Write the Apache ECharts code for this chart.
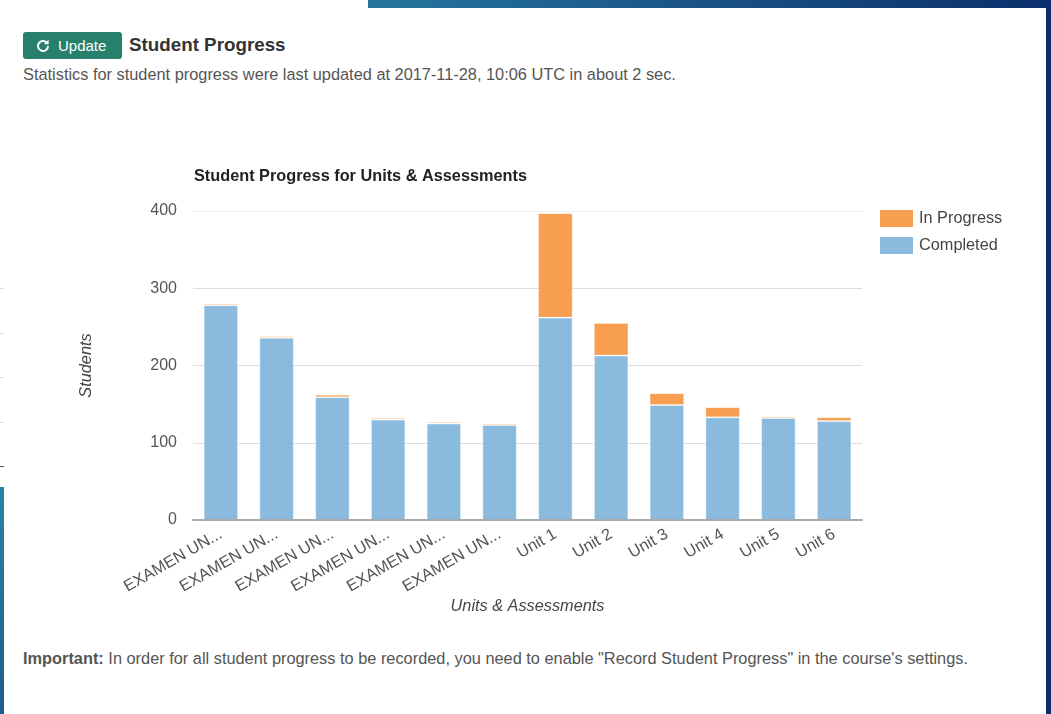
<!DOCTYPE html>
<html>
<head>
<meta charset="utf-8">
<title>Student Progress</title>
<script src="https://cdn.jsdelivr.net/npm/echarts@6/dist/echarts.min.js"></script>
<style>
  html, body { margin: 0; padding: 0; background: #fff; }
  body { width: 1051px; height: 714px; position: relative; overflow: hidden; font-family: "Liberation Sans", Arial, sans-serif; }
  #chart { position: absolute; left: 0; top: 0; width: 1051px; height: 714px; }
  .abs { position: absolute; white-space: nowrap; }
  /* page behind the white card */
  #stripTop { left: 368px; top: 0; width: 683px; height: 8px; background: linear-gradient(90deg, #25769d, #1a5286 50%, #0b2f6c); }
  #stripRight { left: 1046px; top: 0; width: 5px; height: 714px; background: #0b2f6c; }
  #stripLeft { left: 0; top: 487px; width: 4px; height: 227px; background: linear-gradient(180deg, #2a83a4, #1f5c8e); }
  .tick { left: 0; width: 4px; height: 1px; background: #ddd; }
  #btn { left: 23px; top: 32px; width: 99px; height: 27px; background: #26806c; border-radius: 3px; color: #fff; font-size: 15px; line-height: 28px; }
  #btn svg { position: absolute; left: 12px; top: 6px; }
  #btn span { position: absolute; left: 35px; }
  #head { left: 129px; top: 34px; font-size: 18.8px; font-weight: bold; color: #333; line-height: 22px; }
  #stats { left: 23px; top: 65px; font-size: 16.35px; color: #555; line-height: 18px; }
  #note { left: 23px; top: 649px; font-size: 16.35px; color: #555; line-height: 18px; }
</style>
</head>
<body>
<div class="abs" id="stripTop"></div>
<div class="abs" id="stripRight"></div>
<div class="abs" id="stripLeft"></div>
<div class="abs tick" style="top:288px"></div>
<div class="abs tick" style="top:333px"></div>
<div class="abs tick" style="top:377px"></div>
<div class="abs tick" style="top:422px"></div>
<div class="abs tick" style="top:466px;background:#555"></div>
<div class="abs" id="btn">
  <svg width="16" height="16" viewBox="0 0 16 16"><path d="M13 8a5 5 0 1 1-1.5-3.6" fill="none" stroke="#fff" stroke-width="2"/><path d="M13.6 1.6v4.6H9z" fill="#fff"/></svg>
  <span>Update</span>
</div>
<div class="abs" id="head">Student Progress</div>
<div class="abs" id="stats">Statistics for student progress were last updated at 2017-11-28, 10:06 UTC in about 2 sec.</div>
<div class="abs" id="note"><b>Important:</b> In order for all student progress to be recorded, you need to enable "Record Student Progress" in the course's settings.</div>
<div id="chart"></div>
<script>
const categories = ['EXAMEN UN...', 'EXAMEN UN...', 'EXAMEN UN...', 'EXAMEN UN...', 'EXAMEN UN...', 'EXAMEN UN...', 'Unit 1', 'Unit 2', 'Unit 3', 'Unit 4', 'Unit 5', 'Unit 6'];
const completed = [278, 236, 159, 130, 125, 123, 262, 213, 149, 133, 132, 128];
const inProgress = [2, 2, 3, 2, 2, 2, 135, 42, 15, 13, 2, 5];
const yTicks = [0, 100, 200, 300, 400];

const fontFamily = '"Liberation Sans", Arial, sans-serif';
const myChart = echarts.init(document.getElementById('chart'), null, { renderer: 'canvas' });

const option = {
  backgroundColor: 'transparent',
  animation: false,
  textStyle: { fontFamily: fontFamily },
  title: {
    text: 'Student Progress for Units & Assessments',
    left: 189,
    top: 164,
    textStyle: { fontSize: 16.3, fontWeight: 'bold', color: '#222', fontFamily: fontFamily }
  },
  legend: {
    orient: 'vertical',
    left: 875,
    top: 205,
    itemWidth: 33,
    itemHeight: 17,
    itemGap: 10,
    icon: 'rect',
    itemStyle: { borderWidth: 0 },
    textStyle: { fontSize: 16.3, color: '#444', padding: [0, 0, 0, 1], fontFamily: fontFamily },
    data: ['In Progress', 'Completed']
  },
  grid: { left: 193, right: 189, top: 211, bottom: 194, containLabel: false },
  xAxis: {
    type: 'category',
    z: 3,
    data: categories,
    name: 'Units & Assessments',
    nameLocation: 'middle',
    nameGap: 78,
    nameTextStyle: { fontSize: 16.3, fontStyle: 'italic', color: '#444', fontFamily: fontFamily },
    axisLine: { lineStyle: { color: '#aaa', width: 2 } },
    axisTick: { show: false },
    axisLabel: { interval: 0, rotate: 30, fontSize: 16.3, color: '#555', margin: 13, fontFamily: fontFamily }
  },
  yAxis: {
    type: 'value',
    min: yTicks[0],
    max: yTicks[yTicks.length - 1],
    interval: yTicks[1] - yTicks[0],
    name: 'Students',
    nameLocation: 'middle',
    nameGap: 99,
    nameTextStyle: { fontSize: 16.3, fontStyle: 'italic', color: '#444', fontFamily: fontFamily },
    axisLine: { show: false },
    axisTick: { show: false },
    axisLabel: { fontSize: 16, color: '#555', margin: 16, fontFamily: fontFamily },
    splitLine: { lineStyle: { color: ['#ddd', '#ddd', '#ddd', '#ddd', '#eee'], width: 1 } }
  },
  series: [
    {
      name: 'Completed',
      type: 'bar',
      stack: 'progress',
      barWidth: '62%',
      data: completed,
      itemStyle: { color: 'rgba(128,180,218,0.92)', borderColor: 'rgba(255,255,255,0.5)', borderWidth: 1 }
    },
    {
      name: 'In Progress',
      type: 'bar',
      stack: 'progress',
      data: inProgress,
      itemStyle: { color: '#f79e50', borderColor: 'rgba(255,255,255,0.25)', borderWidth: 1 }
    }
  ]
};
myChart.setOption(option);
</script>
</body>
</html>
